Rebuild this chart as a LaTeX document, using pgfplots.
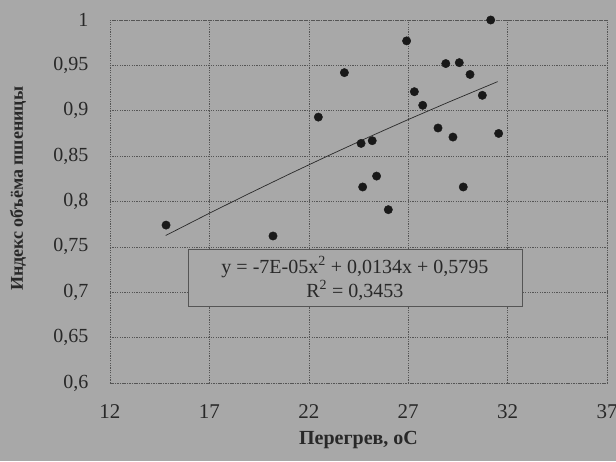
\documentclass[border=0pt]{standalone}
\usepackage{fontspec}
\setmainfont{Liberation Serif}
\usepackage{pgfplots}
\pgfplotsset{compat=1.18}
\definecolor{bg}{RGB}{168,168,168}
\definecolor{ink}{RGB}{40,40,40}
\definecolor{gridc}{RGB}{85,85,85}
\begin{document}
\begin{tikzpicture}
\clip (0,0) rectangle (616pt,461pt);
\fill[bg] (0,0) rectangle (616pt,461pt);
\begin{axis}[
  at={(110pt,78pt)}, anchor=south west,
  scale only axis, width=497pt, height=363pt,
  xmin=12, xmax=37, ymin=0.6, ymax=1,
  xtick={12,17,22,27,32,37},
  ytick={0.6,0.65,0.7,0.75,0.8,0.85,0.9,0.95,1},
  /pgf/number format/use comma,
  /pgf/number format/assume math mode=true,
  yticklabel style={/pgf/number format/fixed,/pgf/number format/precision=2,
    font=\fontsize{20}{24}\selectfont, text=ink, xshift=-18pt},
  xticklabel style={font=\fontsize{21}{25}\selectfont, text=ink, yshift=-18pt},
  major tick length=0pt,
  grid=major,
  grid style={gridc, line width=0.6pt, dash pattern=on 1.2pt off 1.2pt},
  axis line style={gridc, line width=0.6pt, dash pattern=on 1.2pt off 1.2pt},
  xlabel={\textbf{Перегрев, оС}},
  xlabel style={font=\fontsize{20}{24}\selectfont, text=ink, at={(axis description cs:0.5,-0.158)}, anchor=center},
  ylabel={\textbf{Индекс объёма пшеницы}},
  ylabel style={font=\fontsize{18}{22}\selectfont, text=ink, at={(axis description cs:-0.185,0.535)}, anchor=center},
  clip=false,
]
\addplot[ink, line width=0.7pt] coordinates {
  (14.8,0.7625) (17,0.7871) (19,0.8088) (21,0.8300) (23,0.8507)
  (25,0.8708) (27,0.8903) (29,0.9092) (31.5,0.9321)
};
\addplot[only marks, mark=*, mark size=4.2pt, color=black!90] coordinates {
  (31.15,1.000) (26.92,0.977) (28.89,0.952) (29.57,0.953) (30.11,0.940)
  (23.79,0.942) (27.31,0.921) (27.73,0.906) (30.73,0.917) (22.48,0.893)
  (28.50,0.881) (29.25,0.871) (31.55,0.875) (24.63,0.864) (25.19,0.867)
  (25.41,0.828) (24.71,0.816) (29.77,0.816) (26.00,0.791) (14.82,0.774)
  (20.20,0.762)
};
\node[draw=gridc, line width=0.8pt, fill=bg, minimum width=334pt, minimum height=57pt,
  inner sep=0pt, align=center, text=ink, font=\fontsize{20}{24}\selectfont]
  at (axis cs:24.32,0.7155) {y = -7E-05x\textsuperscript{2} + 0,0134x + 0,5795\\R\textsuperscript{2} = 0,3453};
\end{axis}
\end{tikzpicture}
\end{document}
